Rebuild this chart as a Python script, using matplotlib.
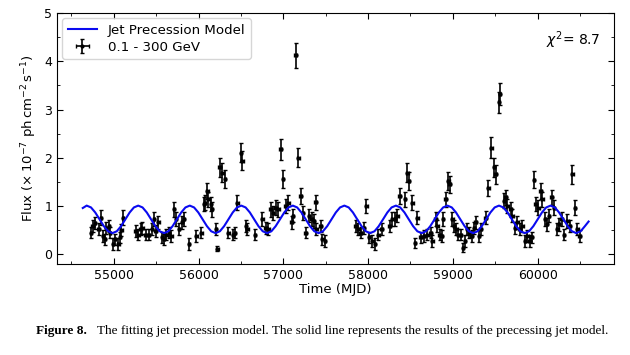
import matplotlib
matplotlib.use("Agg")
import matplotlib.pyplot as plt
from matplotlib.ticker import MultipleLocator

# Fermi-LAT light curve (MJD, flux in 1e-7 ph cm^-2 s^-1, error)
mjd = [54729, 54749, 54780, 54820, 54847, 54874, 54897, 54910, 54945, 54956,
       54992, 55015, 55055, 55074, 55090, 55110, 55259, 55291, 55318, 55338,
       55377, 55417, 55448, 55476, 55495, 55527, 55566, 55593, 55621, 55653,
       55680, 55712, 55731, 55771, 55802, 55829, 55888, 55975, 56034, 56065,
       56077, 56105, 56116, 56144, 56156, 56203, 56223, 56250, 56282, 56313,
       56352, 56407, 56431, 56458, 56498, 56517, 56557, 56577, 56667, 56754,
       56792, 56824, 56851, 56879, 56910, 56942, 56969, 56997, 57028, 57060,
       57099, 57115, 57146, 57178, 57205, 57233, 57264, 57303, 57335, 57362,
       57380, 57390, 57441, 57461, 57492, 57854, 57885, 57913, 57952, 57980,
       58011, 58050, 58081, 58121, 58160, 58255, 58286, 58317, 58345, 58373,
       58435, 58463, 58482, 58522, 58553, 58581, 58620, 58660, 58699, 58738,
       58758, 58797, 58817, 58844, 58868, 58883, 58915, 58946, 58962, 58994,
       59013, 59041, 59064, 59092, 59119, 59143, 59171, 59190, 59222, 59249,
       59269, 59308, 59328, 59387, 59419, 59454, 59486, 59505, 59544, 59556,
       59603, 59623, 59643, 59682, 59702, 59733, 59761, 59788, 59820, 59851,
       59879, 59906, 59929, 59957, 59976, 60008, 60035, 60055, 60086, 60113,
       60133, 60165, 60192, 60232, 60251, 60283, 60310, 60350, 60377, 60409,
       60440, 60468, 60495]
flux = [0.45, 0.59, 0.65, 0.52, 0.76, 0.38, 0.31, 0.55, 0.59, 0.45,
        0.21, 0.31, 0.21, 0.35, 0.50, 0.76, 0.48, 0.41, 0.52, 0.55,
        0.41, 0.41, 0.52, 0.73, 0.48, 0.66, 0.35, 0.31, 0.41, 0.45,
        0.38, 0.93, 0.73, 0.52, 0.66, 0.73, 0.21, 0.38, 0.45, 1.04,
        1.07, 1.31, 1.14, 1.04, 0.93, 0.52, 0.12, 1.80, 1.69, 1.56,
        0.45, 0.41, 0.45, 1.07, 2.11, 1.94, 0.59, 0.52, 0.41, 0.73,
        0.55, 0.52, 0.93, 0.86, 0.97, 0.93, 2.18, 1.56, 1.00, 1.07,
        0.66, 0.80, 4.12, 2.00, 1.21, 0.86, 0.45, 0.80, 0.73, 0.69,
        1.08, 0.52, 0.59, 0.31, 0.28, 0.59, 0.52, 0.45, 0.55, 1.00,
        0.35, 0.28, 0.21, 0.41, 0.52, 0.59, 0.73, 0.73, 0.80, 1.21,
        1.14, 1.69, 1.52, 1.07, 0.24, 0.76, 0.35, 0.38, 0.41, 0.45,
        0.28, 0.73, 0.59, 0.41, 0.38, 0.73, 1.14, 1.52, 1.45, 0.73,
        0.59, 0.52, 0.41, 0.41, 0.14, 0.28, 0.52, 0.45, 0.38, 0.55,
        0.66, 0.38, 0.52, 0.76, 1.38, 2.21, 1.80, 1.66, 3.15, 3.32,
        1.11, 1.18, 1.00, 0.93, 0.80, 0.55, 0.66, 0.52, 0.59, 0.28,
        0.38, 0.28, 0.35, 1.55, 1.04, 0.97, 1.31, 1.14, 0.73, 0.62,
        0.80, 1.18, 0.97, 0.52, 0.62, 0.73, 0.41, 0.69, 0.59, 1.66,
        0.97, 0.52, 0.38]
flux_err = [0.12, 0.13, 0.13, 0.12, 0.15, 0.12, 0.12, 0.12, 0.13, 0.12,
            0.12, 0.12, 0.12, 0.12, 0.12, 0.15, 0.12, 0.12, 0.12, 0.12,
            0.12, 0.12, 0.12, 0.14, 0.12, 0.13, 0.12, 0.12, 0.12, 0.12,
            0.12, 0.15, 0.14, 0.12, 0.13, 0.14, 0.12, 0.12, 0.12, 0.15,
            0.16, 0.17, 0.16, 0.15, 0.15, 0.12, 0.06, 0.20, 0.20, 0.18,
            0.12, 0.12, 0.12, 0.16, 0.20, 0.20, 0.13, 0.12, 0.12, 0.14,
            0.12, 0.12, 0.15, 0.15, 0.15, 0.15, 0.22, 0.18, 0.15, 0.16,
            0.13, 0.14, 0.25, 0.20, 0.16, 0.15, 0.12, 0.14, 0.14, 0.14,
            0.16, 0.12, 0.12, 0.12, 0.12, 0.12, 0.12, 0.12, 0.12, 0.15,
            0.12, 0.12, 0.12, 0.12, 0.12, 0.12, 0.14, 0.14, 0.14, 0.16,
            0.16, 0.20, 0.18, 0.16, 0.10, 0.14, 0.12, 0.12, 0.12, 0.12,
            0.12, 0.14, 0.12, 0.12, 0.12, 0.14, 0.16, 0.18, 0.18, 0.14,
            0.12, 0.12, 0.12, 0.12, 0.10, 0.12, 0.12, 0.12, 0.12, 0.12,
            0.13, 0.12, 0.12, 0.14, 0.17, 0.22, 0.20, 0.20, 0.22, 0.22,
            0.16, 0.16, 0.15, 0.15, 0.14, 0.12, 0.13, 0.12, 0.12, 0.12,
            0.12, 0.12, 0.12, 0.18, 0.15, 0.15, 0.17, 0.16, 0.14, 0.13,
            0.14, 0.16, 0.15, 0.12, 0.13, 0.14, 0.12, 0.14, 0.12, 0.20,
            0.15, 0.12, 0.12]

# jet precession model curve
model_mjd = [54634,
             54680, 54731, 54781, 54832, 54883, 54933, 54984, 55035, 55085, 55136, 55187, 55237,
             55288, 55339, 55389, 55440, 55491, 55541, 55592, 55643, 55693, 55744, 55795, 55845,
             55896, 55947, 55997, 56048, 56099, 56149, 56200, 56251, 56301, 56352, 56403, 56453,
             56504, 56555, 56605, 56656, 56707, 56757, 56808, 56859, 56909, 56960, 57011, 57061,
             57112, 57163, 57213, 57264, 57315, 57365, 57416, 57467, 57517, 57568, 57619, 57669,
             57720, 57771, 57821, 57872, 57923, 57973, 58024, 58075, 58125, 58176, 58227, 58277,
             58328, 58379, 58429, 58480, 58531, 58581, 58632, 58683, 58733, 58784, 58835, 58885,
             58936, 58987, 59037, 59088, 59139, 59189, 59240, 59291, 59341, 59392, 59443, 59493,
             59544, 59595, 59645, 59696, 59747, 59797, 59848, 59899, 59949, 60000, 60051, 60101,
             60152, 60203, 60253, 60304, 60355, 60405, 60456, 60507, 60557, 60601]
model_flux = [0.96,
              1.01, 0.972, 0.868, 0.725, 0.583, 0.478, 0.44, 0.478, 0.583, 0.725, 0.868, 0.972,
              1.01, 0.972, 0.868, 0.725, 0.583, 0.478, 0.44, 0.478, 0.583, 0.725, 0.868, 0.972,
              1.01, 0.972, 0.868, 0.725, 0.583, 0.478, 0.44, 0.478, 0.583, 0.725, 0.868, 0.972,
              1.01, 0.972, 0.868, 0.725, 0.583, 0.478, 0.44, 0.478, 0.583, 0.725, 0.868, 0.972,
              1.01, 0.972, 0.868, 0.725, 0.583, 0.478, 0.44, 0.478, 0.583, 0.725, 0.868, 0.972,
              1.01, 0.972, 0.868, 0.725, 0.583, 0.478, 0.44, 0.478, 0.583, 0.725, 0.868, 0.972,
              1.01, 0.972, 0.868, 0.725, 0.583, 0.478, 0.44, 0.478, 0.583, 0.725, 0.868, 0.972,
              1.01, 0.972, 0.868, 0.725, 0.583, 0.478, 0.44, 0.478, 0.583, 0.725, 0.868, 0.972,
              1.01, 0.972, 0.868, 0.725, 0.583, 0.478, 0.44, 0.478, 0.583, 0.725, 0.868, 0.972,
              1.01, 0.972, 0.868, 0.725, 0.583, 0.478, 0.44, 0.478, 0.583, 0.68]

chi2_text = r"$\chi^2$= 8.7"
caption_head = "Figure 8."
caption_body = ("The fitting jet precession model. The solid line represents "
                "the results of the precessing jet model.")


def main():
    fig = plt.figure(figsize=(6.3, 3.55), dpi=100)
    ax = fig.add_axes([0.0905, 0.2563, 0.884, 0.7071])

    ax.plot(model_mjd, model_flux, color="#0a0af0", lw=1.5, label="Jet Precession Model", zorder=3)
    ax.errorbar(mjd, flux, yerr=flux_err, xerr=15, fmt="o", ms=2, color="black",
                ecolor="black", elinewidth=1.2, capsize=1.5, capthick=1.0,
                label="0.1 - 300 GeV", zorder=2)

    ax.set_xlim(54330, 60900)
    ax.set_ylim(-0.2, 5)
    ax.xaxis.set_major_locator(MultipleLocator(1000))
    ax.xaxis.set_minor_locator(MultipleLocator(500))
    ax.yaxis.set_major_locator(MultipleLocator(1))
    ax.yaxis.set_minor_locator(MultipleLocator(0.5))
    ax.tick_params(which="both", direction="in", top=True, right=True, labelsize=9)
    ax.tick_params(which="major", length=4)
    ax.tick_params(which="minor", length=2)

    ax.set_xlabel("Time (MJD)", fontsize=9.5, labelpad=1)
    ax.set_ylabel(r"Flux ($\times\,10^{-7}$ ph$\,$cm$^{-2}\,$s$^{-1}$)", fontsize=9.5, labelpad=4)

    ax.text(0.975, 0.89, chi2_text, transform=ax.transAxes, ha="right", va="center", fontsize=10)
    ax.legend(loc="upper left", fontsize=9.6, handlelength=2.2, borderpad=0.4,
              labelspacing=0.3, borderaxespad=0.4)

    head = fig.text(36 / 630, 1 - 331 / 355, caption_head, family="Liberation Serif",
                    weight="bold", fontsize=9.5, va="center")
    ax.annotate(caption_body, xy=(1, 0.5), xycoords=head, xytext=(7, 0),
                textcoords="offset points", va="center", family="Liberation Serif",
                fontsize=9.5, annotation_clip=False)

    fig.savefig("out.png", dpi=100)
    return 0


if __name__ == '__main__':
    main()
